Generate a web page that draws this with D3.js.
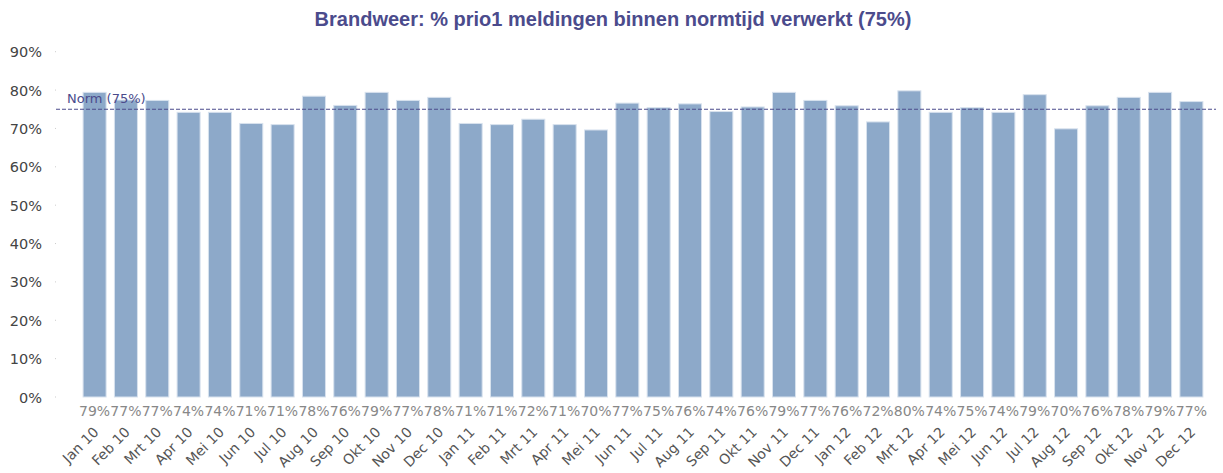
<!DOCTYPE html>
<html>
<head>
<meta charset="utf-8">
<script src="https://cdn.jsdelivr.net/npm/d3@7.9.0/dist/d3.min.js"></script>
<style>
  body { margin: 0; background: #fff; }
  svg { display: block; font-family: "DejaVu Sans", sans-serif; }
</style>
</head>
<body>
<svg id="chart" width="1223" height="473"></svg>
<script>
// month labels and percentages (bar heights)
const months = ['Jan 10','Feb 10','Mrt 10','Apr 10','Mei 10','Jun 10','Jul 10','Aug 10','Sep 10','Okt 10','Nov 10','Dec 10',
  'Jan 11','Feb 11','Mrt 11','Apr 11','Mei 11','Jun 11','Jul 11','Aug 11','Sep 11','Okt 11','Nov 11','Dec 11',
  'Jan 12','Feb 12','Mrt 12','Apr 12','Mei 12','Jun 12','Jul 12','Aug 12','Sep 12','Okt 12','Nov 12','Dec 12'];
const pct = [79.4,77.4,77.3,74.2,74.2,71.3,71.0,78.4,76.0,79.4,77.3,78.1,
  71.3,71.0,72.4,71.0,69.6,76.6,75.4,76.4,74.4,75.6,79.4,77.3,
  75.9,71.7,79.8,74.2,75.4,74.2,78.8,69.9,75.9,78.1,79.4,77.0];
const yTicks = [0,10,20,30,40,50,60,70,80,90];
const norm = 75;
const title = 'Brandweer: % prio1 meldingen binnen normtijd verwerkt (75%)';

const svg = d3.select('#chart');
const purple = '#4b4b8c';

const x = d3.scaleBand().domain(months).range([79, 1207]).paddingInner(0.265).paddingOuter(0.13);
const y = d3.scaleLinear().domain([0, 90]).range([397, 51.7]);

// title
svg.append('text')
  .attr('x', 613).attr('y', 26)
  .attr('text-anchor', 'middle')
  .attr('font-family', '"Liberation Sans", Arial, sans-serif')
  .attr('font-size', 20).attr('font-weight', 'bold')
  .attr('fill', purple)
  .text(title);

// y axis: labels + small dot ticks
const yAxis = svg.append('g');
yAxis.selectAll('text').data(yTicks).enter().append('text')
  .attr('x', 42).attr('y', d => y(d) + 5.5)
  .attr('text-anchor', 'end')
  .attr('font-size', 14.5).attr('fill', '#444')
  .text(d => d + '%');
yAxis.selectAll('rect').data(yTicks).enter().append('rect')
  .attr('x', 55).attr('y', d => y(d) - 0.5)
  .attr('width', 1).attr('height', 1)
  .attr('fill', '#ccc');

// bars
svg.append('g').selectAll('rect').data(pct).enter().append('rect')
  .attr('x', (d, i) => x(months[i]))
  .attr('y', d => y(d))
  .attr('width', x.bandwidth())
  .attr('height', d => y(0) - y(d))
  .attr('fill', '#8da9c9')
  .attr('stroke', '#d8e2ee')
  .attr('stroke-width', 1);

// norm line
svg.append('line')
  .attr('x1', 56).attr('x2', 1216)
  .attr('y1', y(norm)).attr('y2', y(norm))
  .attr('stroke', purple).attr('stroke-width', 1.2)
  .attr('stroke-dasharray', '4,2');
svg.append('text')
  .attr('x', 67).attr('y', y(norm) - 6.5)
  .attr('font-size', 13).attr('fill', purple)
  .text('Norm (' + norm + '%)');

// value labels under bars
svg.append('g').selectAll('text').data(pct).enter().append('text')
  .attr('x', (d, i) => x(months[i]) + x.bandwidth() / 2)
  .attr('y', 416)
  .attr('text-anchor', 'middle')
  .attr('font-size', 14).attr('fill', '#888')
  .text(d => Math.round(d) + '%');

// rotated month labels
svg.append('g').selectAll('text').data(months).enter().append('text')
  .attr('transform', d => `translate(${x(d) + x.bandwidth() / 2 + 5},${433}) rotate(-45)`)
  .attr('text-anchor', 'end')
  .attr('font-size', 14).attr('fill', '#555')
  .text(d => d);
</script>
</body>
</html>
